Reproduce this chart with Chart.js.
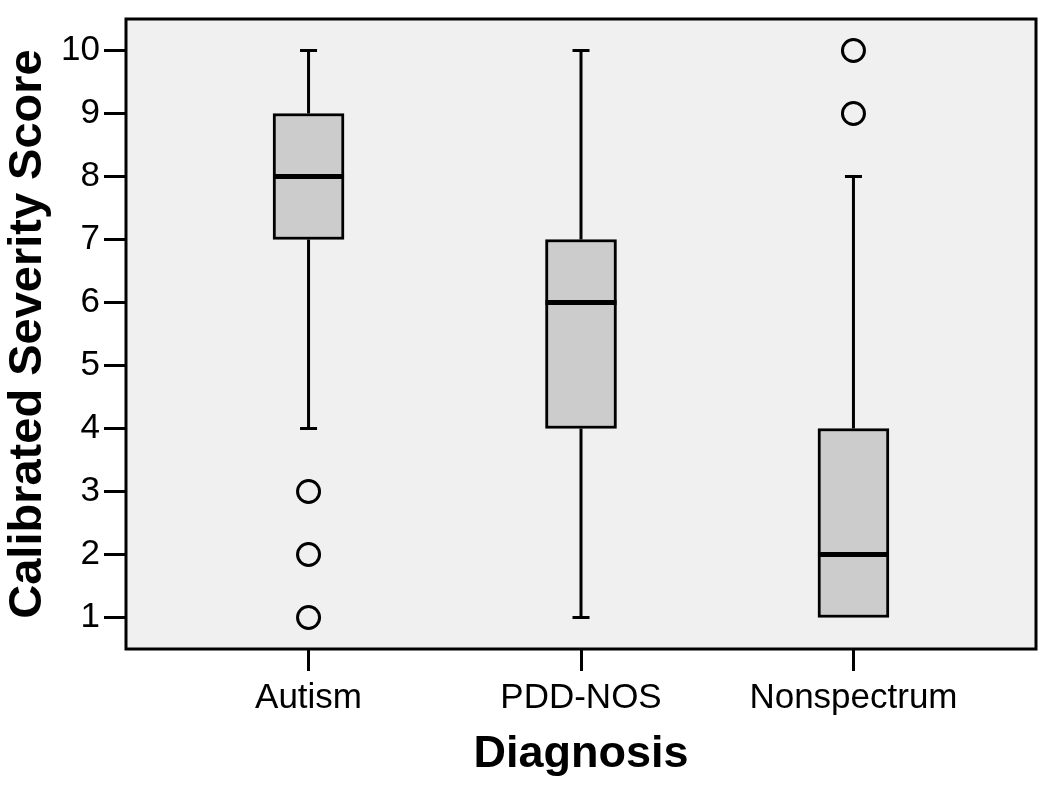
<!DOCTYPE html>
<html>
<head>
<meta charset="utf-8">
<script src="https://cdn.jsdelivr.net/npm/chart.js@4/dist/chart.umd.min.js"></script>
<style>
  html, body { margin: 0; padding: 0; background: #ffffff; }
  #wrap { width: 1050px; height: 796px; }
</style>
</head>
<body>
<div id="wrap"><canvas id="boxChart" width="1050" height="796"></canvas></div>
<script>
// datos
const categories = ['Autism', 'PDD-NOS', 'Nonspectrum'];
const whiskerLow = [4, 1, 1];
const q1 = [7, 4, 1];
const median = [8, 6, 2];
const q3 = [9, 7, 4];
const whiskerHigh = [10, 10, 8];
// valores atipicos por categoria
const outliers = [[3, 2, 1], [], [10, 9]];
const yTicks = [1, 2, 3, 4, 5, 6, 7, 8, 9, 10];

const fontFamily = "Arial, 'Liberation Sans', Helvetica, sans-serif";

const boxData = categories.map((c, i) => ({ x: i + 1, y: [q1[i], q3[i]] }));
const outlierData = [];
outliers.forEach((list, i) => {
    list.forEach(v => outlierData.push({ x: i + 1, y: v }));
});

// fondo gris y marco del area del grafico
const framePlugin = {
    id: 'frame',
    beforeDraw(chart) {
        const { ctx, chartArea: a } = chart;
        ctx.save();
        ctx.fillStyle = '#f0f0f0';
        ctx.fillRect(a.left, a.top, a.right - a.left, a.bottom - a.top);
        ctx.restore();
    },
    afterDraw(chart) {
        const { ctx, chartArea: a } = chart;
        ctx.save();
        ctx.strokeStyle = '#000';
        ctx.lineWidth = 3;
        ctx.strokeRect(a.left, a.top, a.right - a.left, a.bottom - a.top);
        ctx.restore();
    }
};

// bigotes y medianas usando las escalas del grafico
const whiskerPlugin = {
    id: 'whiskers',
    afterDatasetsDraw(chart) {
        const { ctx, scales: { x, y } } = chart;
        const capHalf = 8.5;
        const boxHalf = 35.5;
        ctx.save();
        ctx.strokeStyle = '#000';
        ctx.lineCap = 'butt';
        categories.forEach((c, i) => {
            const px = x.getPixelForValue(i + 1);
            const yLow = y.getPixelForValue(whiskerLow[i]);
            const yQ1 = y.getPixelForValue(q1[i]);
            const yQ3 = y.getPixelForValue(q3[i]);
            const yHigh = y.getPixelForValue(whiskerHigh[i]);
            ctx.lineWidth = 3;
            ctx.beginPath();
            ctx.moveTo(px, yQ3);
            ctx.lineTo(px, yHigh);
            ctx.moveTo(px - capHalf, yHigh);
            ctx.lineTo(px + capHalf, yHigh);
            if (whiskerLow[i] < q1[i]) {
                ctx.moveTo(px, yQ1);
                ctx.lineTo(px, yLow);
                ctx.moveTo(px - capHalf, yLow);
                ctx.lineTo(px + capHalf, yLow);
            }
            ctx.stroke();
            // mediana
            const yMed = y.getPixelForValue(median[i]);
            ctx.lineWidth = 5;
            ctx.beginPath();
            ctx.moveTo(px - boxHalf, yMed);
            ctx.lineTo(px + boxHalf, yMed);
            ctx.stroke();
        });
        ctx.restore();
    }
};

const ctx = document.getElementById('boxChart').getContext('2d');
window.myBoxChart = new Chart(ctx, {
    type: 'bar',
    data: {
        datasets: [{
            label: 'Caja',
            data: boxData,
            backgroundColor: '#cccccc',
            borderColor: '#000000',
            borderWidth: 3,
            borderSkipped: false,
            barThickness: 71,
            order: 2
        },
        {
            type: 'scatter',
            label: 'Atipicos',
            data: outlierData,
            pointStyle: 'circle',
            pointRadius: 11,
            pointBorderWidth: 3,
            pointBackgroundColor: '#f0f0f0',
            pointBorderColor: '#000000',
            order: 1
        }]
    },
    options: {
        responsive: false,
        animation: false,
        layout: { padding: { left: 0, top: 19, right: 10, bottom: 0 } },
        plugins: {
            legend: { display: false },
            tooltip: { enabled: false }
        },
        scales: {
            x: {
                type: 'linear',
                min: 0.33,
                max: 3.67,
                offset: false,
                afterBuildTicks: (scale) => {
                    scale.ticks = categories.map((c, i) => ({ value: i + 1 }));
                },
                afterFit: (scale) => {
                    scale.height = 147;
                    scale.paddingLeft = 0;
                    scale.paddingRight = 0;
                },
                ticks: {
                    callback: (value) => categories[value - 1],
                    color: '#000',
                    padding: 6,
                    maxRotation: 0,
                    font: { family: fontFamily, size: 35 }
                },
                grid: {
                    display: true,
                    offset: false,
                    drawOnChartArea: false,
                    drawTicks: true,
                    tickLength: 22,
                    tickWidth: 3,
                    tickColor: '#000',
                    lineWidth: 3,
                    color: '#000'
                },
                border: { display: false },
                title: {
                    display: true,
                    text: 'Diagnosis',
                    color: '#000',
                    font: { family: fontFamily, size: 45, weight: 'bold' },
                    padding: { top: 0, bottom: 14 }
                }
            },
            y: {
                type: 'linear',
                min: 0.5,
                max: 10.5,
                afterBuildTicks: (scale) => {
                    scale.ticks = yTicks.map(v => ({ value: v }));
                },
                afterFit: (scale) => {
                    scale.width = 126;
                    scale.paddingTop = 0;
                    scale.paddingBottom = 0;
                },
                ticks: {
                    color: '#000',
                    padding: 4,
                    font: { family: fontFamily, size: 35, lineHeight: 1 }
                },
                grid: {
                    display: true,
                    drawOnChartArea: false,
                    drawTicks: true,
                    tickLength: 22,
                    tickWidth: 3,
                    tickColor: '#000',
                    lineWidth: 3,
                    color: '#000'
                },
                border: { display: false },
                title: {
                    display: true,
                    text: 'Calibrated Severity Score',
                    color: '#000',
                    font: { family: fontFamily, size: 47, weight: 'bold' },
                    padding: { top: 0, bottom: 0 }
                }
            }
        }
    },
    plugins: [framePlugin, whiskerPlugin]
});
</script>
</body>
</html>
